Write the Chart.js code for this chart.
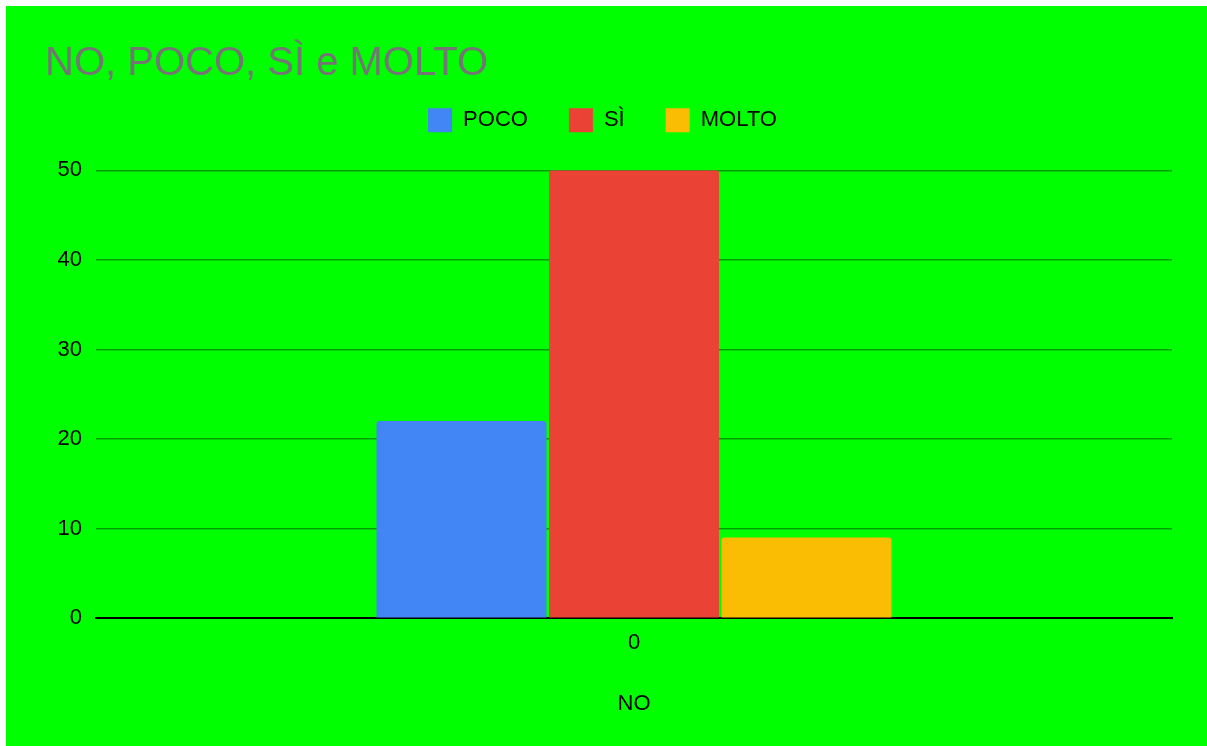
<!DOCTYPE html>
<html>
<head>
<meta charset="utf-8">
<title>NO, POCO, SÌ e MOLTO</title>
<script src="https://cdn.jsdelivr.net/npm/chart.js@4"></script>
<style>
  html, body { margin: 0; padding: 0; background: #fff; }
  #wrap {
    position: absolute;
    left: 6px;
    top: 6px;
    width: 1201px;
    height: 740px;
    background: #00ff00;
  }
</style>
</head>
<body>
<div id="wrap"><canvas id="myChart"></canvas></div>
<script>
// data
const categories = ['0'];
const seriesNames = ['POCO', 'SÌ', 'MOLTO'];
const pocoValues = [22];
const siValues = [50];
const moltoValues = [9];
const seriesColors = ['#4285f4', '#ea4335', '#fbbc04'];

const chartTitle = 'NO, POCO, SÌ e MOLTO';
const xTitle = 'NO';

const FONT = "'Liberation Sans', Arial, Helvetica, sans-serif";

const data = {
    labels: categories,
    datasets: [pocoValues, siValues, moltoValues].map((vals, i) => ({
        label: seriesNames[i],
        data: vals,
        backgroundColor: seriesColors[i],
        borderRadius: 3,
        categoryPercentage: 0.481,
        barPercentage: 0.985
    }))
};

// more room under the legend, and nudge it a little to the left
const legendTweak = {
    id: 'legendTweak',
    beforeInit(chart) {
        const legend = chart.legend;
        const fit = legend.fit;
        legend.fit = function () {
            fit.call(this);
            this.height += 28;
        };
        const draw = legend.draw;
        legend.draw = function () {
            const ctx = this.ctx;
            ctx.save();
            ctx.translate(-6, 0);
            draw.apply(this, arguments);
            ctx.restore();
        };
    }
};

const config = {
    type: 'bar',
    data: data,
    plugins: [legendTweak],
    options: {
        responsive: true,
        maintainAspectRatio: false,
        animation: false,
        layout: {
            padding: { left: 39, right: 35, top: 0, bottom: 29 }
        },
        plugins: {
            title: {
                display: true,
                text: chartTitle,
                align: 'start',
                color: '#757575',
                font: { family: FONT, size: 40, weight: 'normal' },
                padding: { top: 33.5, bottom: -20.2 }
            },
            legend: {
                position: 'top',
                labels: {
                    color: '#000',
                    font: { family: FONT, size: 22 },
                    boxWidth: 24,
                    boxHeight: 24,
                    padding: 41
                }
            },
            tooltip: { enabled: false }
        },
        scales: {
            x: {
                grid: { display: false, drawTicks: false },
                border: { display: true, color: '#000', width: 2 },
                ticks: {
                    color: '#000',
                    font: { family: FONT, size: 22 },
                    padding: 12
                },
                title: {
                    display: true,
                    text: xTitle,
                    color: '#000',
                    font: { family: FONT, size: 22 },
                    padding: { top: 22, bottom: 0 }
                }
            },
            y: {
                min: 0,
                max: 50,
                afterFit(scale) { scale.width = 51; },
                grid: {
                    color: 'rgba(0, 0, 0, 0.38)',
                    lineWidth: 1.5,
                    drawTicks: false
                },
                border: { display: false },
                ticks: {
                    stepSize: 10,
                    color: '#000',
                    font: { family: FONT, size: 22 },
                    padding: 14
                }
            }
        }
    }
};

new Chart(document.getElementById('myChart'), config);
</script>
</body>
</html>
